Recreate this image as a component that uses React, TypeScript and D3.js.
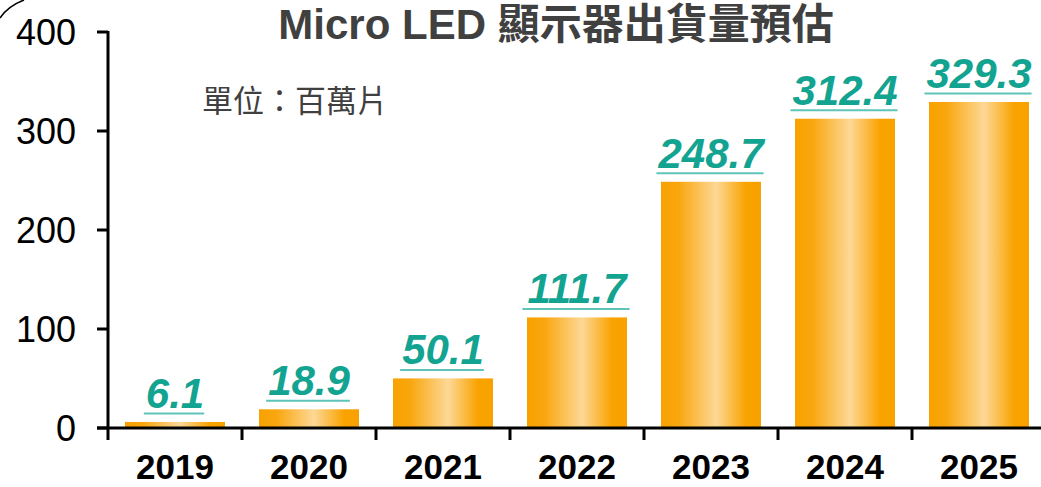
import React from "react";
import * as d3 from "d3";

const years = ["2019", "2020", "2021", "2022", "2023", "2024", "2025"];
const shipments = [6.1, 18.9, 50.1, 111.7, 248.7, 312.4, 329.3];
const yTicks = [0, 100, 200, 300, 400];
const title = "Micro LED 顯示器出貨量預估";
const unitLabel = "單位：百萬片";

const W = 1041;
const H = 487;

export default function App() {
  const x = d3.scaleBand<string>().domain(years).range([108, 1046]).paddingInner(0.254).paddingOuter(0.127);
  const y = d3.scaleLinear().domain([0, 400]).range([428, 32]);
  const step = x.step();
  const font = "'Liberation Sans', Arial, 'Noto Sans CJK TC', sans-serif";
  const labelFs = 42;
  const textW = (s: string) => s.split("").reduce((a, c) => a + (c === "." ? 0.278 : 0.556) * labelFs, 0);
  return (
    <svg width={W} height={H} style={{ position: "absolute", left: 0, top: 0, display: "block" }}>
      <defs>
        <linearGradient id="barGrad" x1="0" x2="1" y1="0" y2="0">
          <stop offset="0%" stopColor="#F8A100" />
          <stop offset="18%" stopColor="#F9A710" />
          <stop offset="55%" stopColor="#FDD896" />
          <stop offset="85%" stopColor="#F9A300" />
          <stop offset="100%" stopColor="#F8A100" />
        </linearGradient>
      </defs>
      <rect width={W} height={H} fill="#fff" />
      <path d="M0,18 Q8,6 24,0" fill="none" stroke="#000" strokeWidth={1.5} />
      <text x={556} y={39} textAnchor="middle" fontFamily={font} fontWeight="bold" fontSize={42} fill="#404040">
        {title}
      </text>
      <text x={202} y={112} fontFamily={font} fontSize={31} fill="#404040">
        {unitLabel}
      </text>
      {shipments.map((v, i) => {
        const bx = x(years[i])!;
        const bw = x.bandwidth();
        const cx = bx + bw / 2;
        const top = y(v);
        const label = v.toFixed(1);
        const tw = textW(label);
        return (
          <g key={years[i]}>
            <rect x={bx} y={top} width={bw} height={y(0) - top} fill="url(#barGrad)" />
            <text x={cx} y={top - 14} textAnchor="middle" fontFamily={font} fontWeight="bold" fontStyle="italic" fontSize={labelFs} fill="#13A391">
              {label}
            </text>
            <line x1={cx - tw / 2 - 2} x2={cx + tw / 2} y1={top - 8.5} y2={top - 8.5} stroke="#5EC4BA" strokeWidth={2} />
          </g>
        );
      })}
      {/* y axis */}
      <line x1={108} x2={108} y1={31} y2={429} stroke="#000" strokeWidth={3} />
      {yTicks.map((t) => (
        <g key={t}>
          <line x1={97} x2={108} y1={y(t)} y2={y(t)} stroke="#000" strokeWidth={3} />
          <text x={76} y={y(t)} dy="0.36em" textAnchor="end" fontFamily={font} fontSize={36} fill="#000">
            {t}
          </text>
        </g>
      ))}
      {/* x axis */}
      <line x1={97} x2={W} y1={428} y2={428} stroke="#000" strokeWidth={3} />
      {years.map((yr, i) => (
        <line key={"t" + yr} x1={108 + i * step} x2={108 + i * step} y1={428} y2={440} stroke="#000" strokeWidth={3} />
      ))}
      {years.map((yr) => (
        <text key={yr} x={x(yr)! + x.bandwidth() / 2} y={479} textAnchor="middle" fontFamily={font} fontWeight="bold" fontSize={35} fill="#000">
          {yr}
        </text>
      ))}
    </svg>
  );
}
